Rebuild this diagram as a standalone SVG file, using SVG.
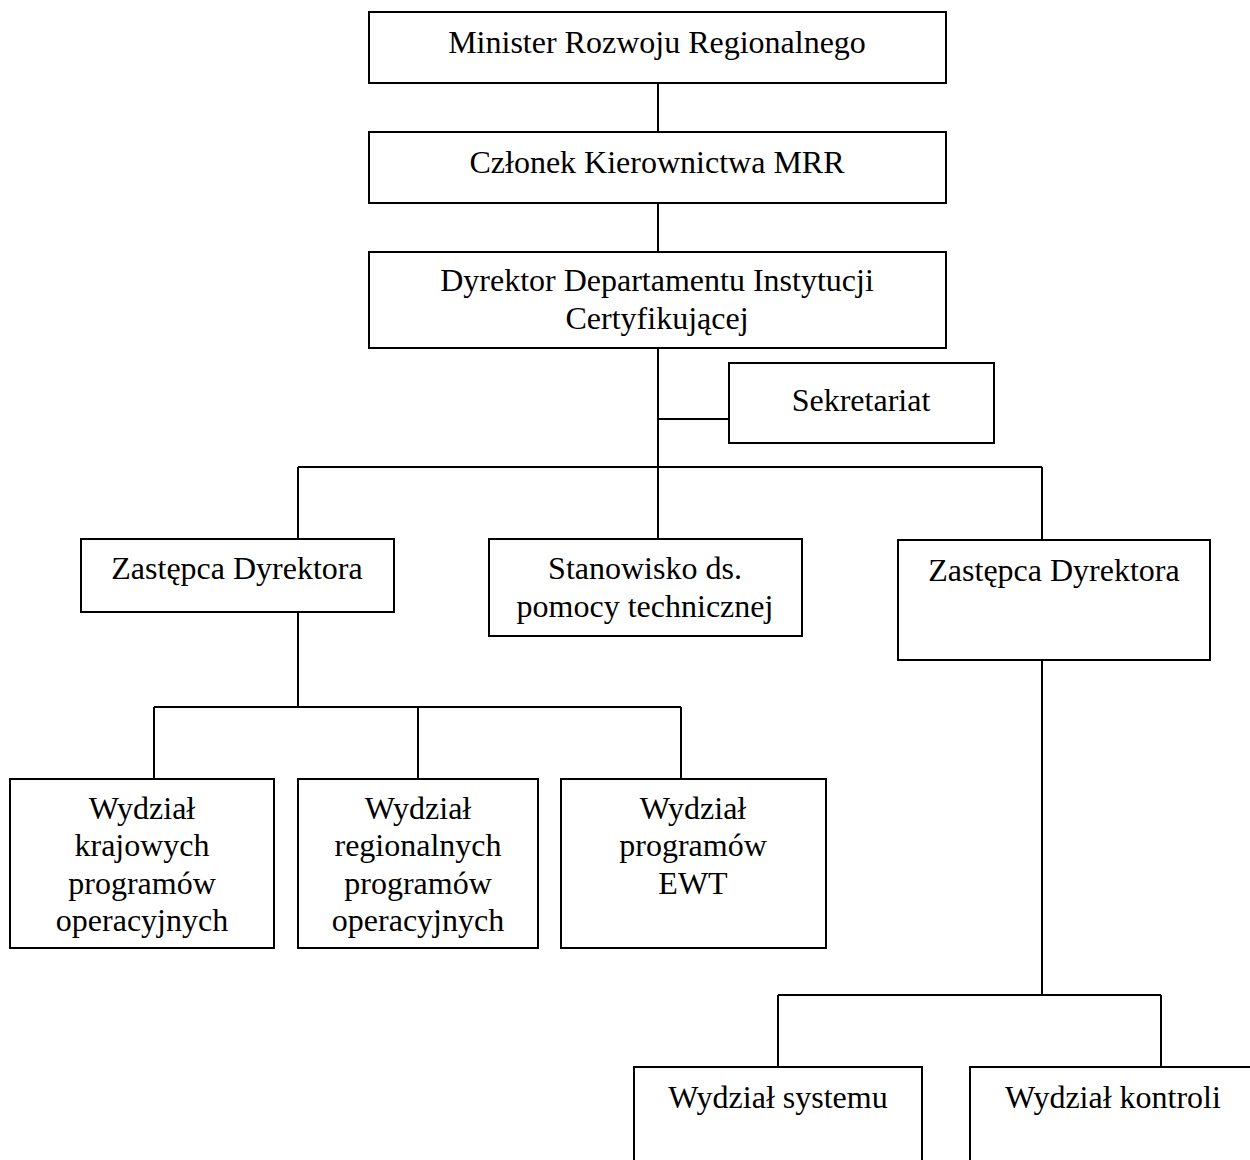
<svg xmlns="http://www.w3.org/2000/svg" width="1250" height="1160" viewBox="0 0 1250 1160">
<style>
rect{fill:#fff;stroke:#000;stroke-width:2}
.c line{stroke:#000;stroke-width:2}
text{font-family:"Liberation Serif","Times New Roman",serif;font-size:32px;fill:#000;text-anchor:middle}
</style>
<rect x="0" y="0" width="1250" height="1160" style="stroke:none"/>
<g class="c" id="connectors">
<line x1="658" y1="83" x2="658" y2="132"/>
<line x1="658" y1="203" x2="658" y2="252"/>
<line x1="658" y1="348" x2="658" y2="539"/>
<line x1="658" y1="419" x2="729" y2="419"/>
<line x1="298" y1="467" x2="1042" y2="467"/>
<line x1="298" y1="467" x2="298" y2="539"/>
<line x1="1042" y1="467" x2="1042" y2="540"/>
<line x1="298" y1="612" x2="298" y2="707"/>
<line x1="154" y1="707" x2="681" y2="707"/>
<line x1="154" y1="707" x2="154" y2="779"/>
<line x1="418" y1="707" x2="418" y2="779"/>
<line x1="681" y1="707" x2="681" y2="779"/>
<line x1="1042" y1="660" x2="1042" y2="995"/>
<line x1="778" y1="995" x2="1161" y2="995"/>
<line x1="778" y1="995" x2="778" y2="1067"/>
<line x1="1161" y1="995" x2="1161" y2="1067"/>
</g>
<g id="minister"><rect x="369" y="12" width="577" height="71"/><text x="657" y="53">Minister Rozwoju Regionalnego</text></g>
<g id="czlonek"><rect x="369" y="132" width="577" height="71"/><text x="657" y="173">Członek Kierownictwa MRR</text></g>
<g id="dyrektor"><rect x="369" y="252" width="577" height="96"/><text x="657" y="291">Dyrektor Departamentu Instytucji</text><text x="657" y="329">Certyfikującej</text></g>
<g id="sekretariat"><rect x="729" y="363" width="265" height="80"/><text x="861" y="411">Sekretariat</text></g>
<g id="zastepca1"><rect x="81" y="539" width="313" height="73"/><text x="237" y="579">Zastępca Dyrektora</text></g>
<g id="stanowisko"><rect x="489" y="539" width="313" height="97"/><text x="645" y="579">Stanowisko ds.</text><text x="645" y="617">pomocy technicznej</text></g>
<g id="zastepca2"><rect x="898" y="540" width="312" height="120"/><text x="1054" y="581">Zastępca Dyrektora</text></g>
<g id="wkpo"><rect x="10" y="779" width="264" height="169"/><text x="142" y="819">Wydział</text><text x="142" y="856">krajowych</text><text x="142" y="894">programów</text><text x="142" y="931">operacyjnych</text></g>
<g id="wrpo"><rect x="298" y="779" width="240" height="169"/><text x="418" y="819">Wydział</text><text x="418" y="856">regionalnych</text><text x="418" y="894">programów</text><text x="418" y="931">operacyjnych</text></g>
<g id="wewt"><rect x="561" y="779" width="265" height="169"/><text x="693" y="819">Wydział</text><text x="693" y="856">programów</text><text x="693" y="894">EWT</text></g>
<g id="wsystemu"><rect x="634" y="1067" width="288" height="110"/><text x="778" y="1108">Wydział systemu</text></g>
<g id="wkontroli"><rect x="970" y="1067" width="290" height="110"/><text x="1113" y="1108">Wydział kontroli</text></g>
</svg>
